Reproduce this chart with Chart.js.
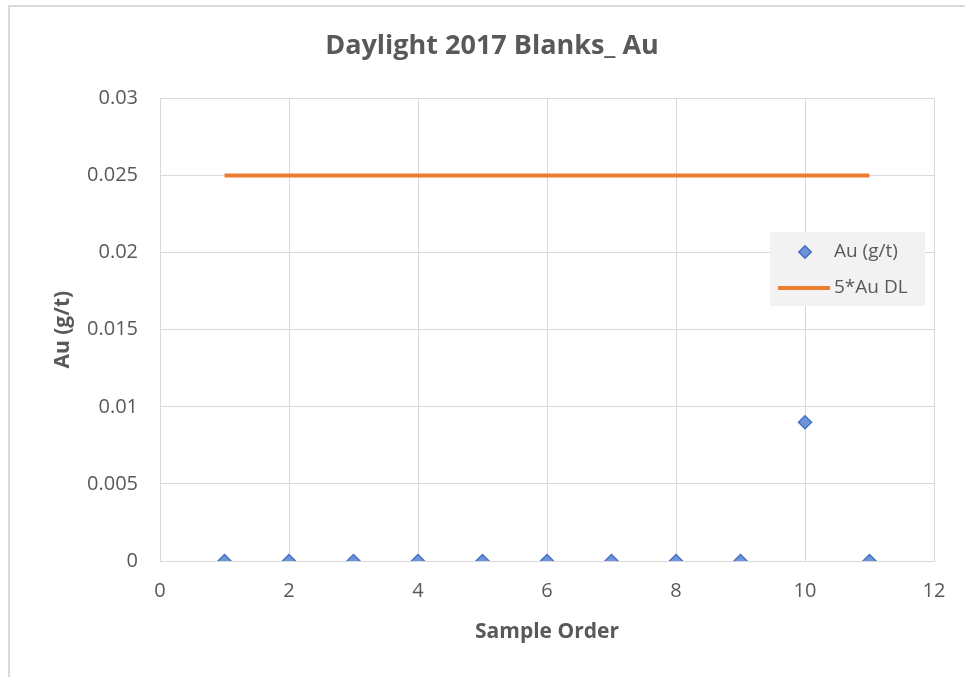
<!DOCTYPE html>
<html>
<head>
<meta charset="utf-8">
<script src="https://cdn.jsdelivr.net/npm/chart.js@4"></script>
<style>
  html, body { margin: 0; padding: 0; background: #fff; overflow: hidden; }
  #frame {
    position: absolute; left: 8px; top: 5px; width: 1000px; height: 720px;
    border: 2px solid #d9d9d9; box-sizing: border-box;
  }
  #chart { position: absolute; left: 0; top: 0; }
</style>
</head>
<body>
<div id="frame"></div>
<canvas id="chart" width="965" height="677"></canvas>
<script>
// sample data
const sampleOrder = [1, 2, 3, 4, 5, 6, 7, 8, 9, 10, 11];
const auValues = [0, 0, 0, 0, 0, 0, 0, 0, 0, 0.009, 0];
const dlX = [1, 11];
const dlValues = [0.025, 0.025];

const FONT = "'Open Sans', sans-serif";
const GRID = '#d9d9d9';
const TEXT = '#595959';

// legend box drawn inside the plot area, like the excel one
const insideLegend = {
  id: 'insideLegend',
  afterDraw(chart) {
    const ctx = chart.ctx;
    const area = chart.chartArea;
    const boxW = 155, boxH = 74;
    const x0 = area.right - 9 - boxW;
    const y0 = 232;
    ctx.save();
    ctx.fillStyle = '#f2f2f2';
    ctx.fillRect(x0, y0, boxW, boxH);
    ctx.font = "19px " + FONT;
    ctx.fillStyle = TEXT;
    ctx.textBaseline = 'middle';
    chart.data.datasets.forEach((ds, i) => {
      const cy = y0 + 20 + i * 36;
      if (ds.showLine) {
        ctx.strokeStyle = ds.borderColor;
        ctx.lineWidth = ds.borderWidth;
        ctx.beginPath();
        ctx.moveTo(x0 + 8, cy);
        ctx.lineTo(x0 + 60, cy);
        ctx.stroke();
      } else {
        ctx.fillStyle = ds.backgroundColor;
        ctx.strokeStyle = ds.borderColor;
        ctx.lineWidth = ds.borderWidth;
        Chart.helpers.drawPoint(ctx, { pointStyle: 'rectRot', radius: 6, borderWidth: ds.borderWidth }, x0 + 35, cy);
        ctx.fill();
        ctx.stroke();
        ctx.fillStyle = TEXT;
      }
      ctx.fillText(ds.label, x0 + 64, cy);
    });
    ctx.restore();
  }
};

new Chart(document.getElementById('chart'), {
  type: 'scatter',
  data: {
    datasets: [
      {
        label: 'Au (g/t)',
        data: sampleOrder.map((x, i) => ({ x: x, y: auValues[i] })),
        pointStyle: 'rectRot',
        pointRadius: 6.5,
        pointHoverRadius: 6.5,
        backgroundColor: '#6f94d8',
        borderColor: '#4472c4',
        borderWidth: 1.5,
        showLine: false,
        order: 1
      },
      {
        label: '5*Au DL',
        data: dlX.map((x, i) => ({ x: x, y: dlValues[i] })),
        showLine: true,
        borderColor: '#ed7d31',
        backgroundColor: '#ed7d31',
        borderWidth: 4,
        pointRadius: 0,
        pointHoverRadius: 0,
        order: 2
      }
    ]
  },
  options: {
    responsive: false,
    animation: false,
    layout: { padding: { left: 50, right: 31, top: 0, bottom: 0 } },
    plugins: {
      legend: { display: false },
      tooltip: { enabled: false },
      title: {
        display: true,
        text: 'Daylight 2017 Blanks_ Au',
        color: TEXT,
        font: { family: FONT, size: 27, weight: 'bold' },
        padding: { top: 30, bottom: 36 }
      }
    },
    scales: {
      x: {
        type: 'linear',
        min: 0,
        max: 12,
        ticks: { stepSize: 2, color: TEXT, font: { family: FONT, size: 20 }, padding: 18 },
        grid: { color: GRID, drawTicks: false },
        border: { color: GRID },
        title: {
          display: true,
          text: 'Sample Order',
          color: TEXT,
          font: { family: FONT, size: 21, weight: 'bold' },
          padding: { top: 0, bottom: 32 }
        },
        afterFit(scale) { scale.height = 116; }
      },
      y: {
        min: 0,
        max: 0.03,
        ticks: {
          stepSize: 0.005,
          color: TEXT,
          font: { family: FONT, size: 20 },
          padding: 22,
          callback: (v) => String(+v.toFixed(3))
        },
        grid: { color: GRID, drawTicks: false },
        border: { color: GRID },
        title: {
          display: true,
          text: 'Au (g/t)',
          color: TEXT,
          font: { family: FONT, size: 21, weight: 'bold' },
          padding: { top: 0, bottom: 0 }
        },
        afterFit(scale) { scale.width = 110; }
      }
    }
  },
  plugins: [insideLegend]
});
</script>
</body>
</html>
